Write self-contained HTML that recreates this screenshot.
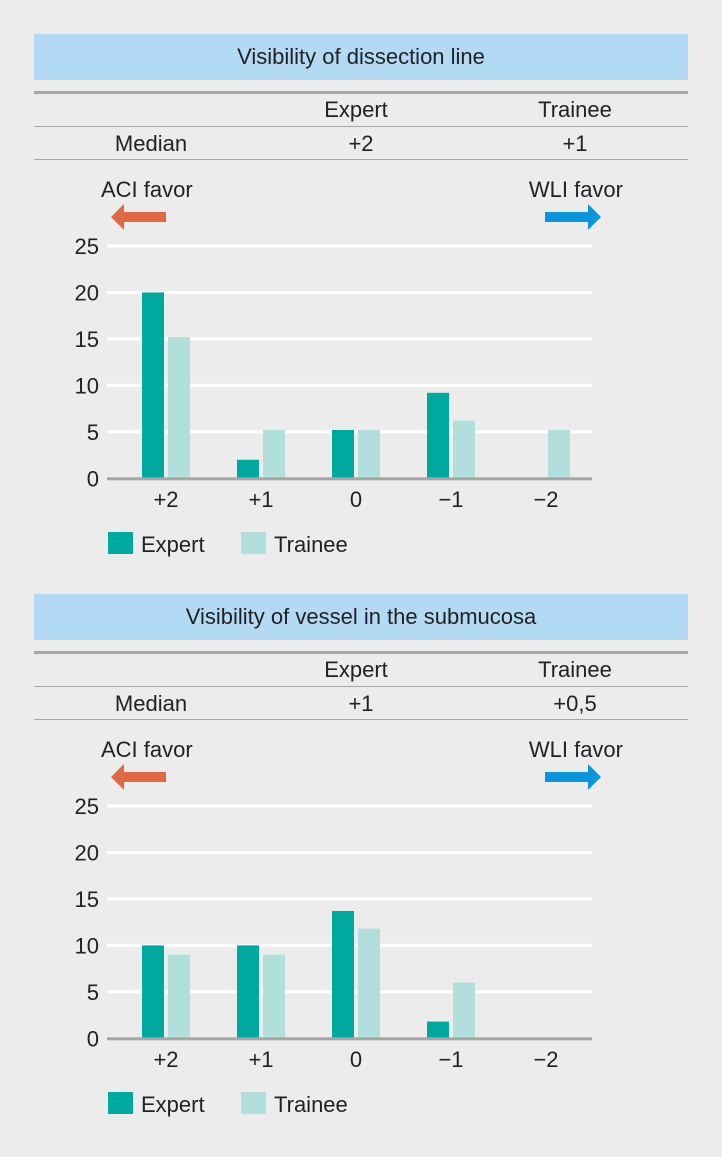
<!DOCTYPE html>
<html><head><meta charset="utf-8"><style>
body{margin:0;background:#ebeceb;width:722px;height:1152px;overflow:hidden;font-family:"Liberation Sans",sans-serif;}
svg text{font-family:"Liberation Sans",sans-serif;fill:#222;}
</style></head><body>
<svg id="s" width="722" height="1152"></svg>
<script>
const categories=["+2","+1","0","\u22121","\u22122"];
const yTicks=[0,5,10,15,20,25];
const titles=["Visibility of dissection line","Visibility of vessel in the submucosa"];
const medianExpert=["+2","+1"];
const medianTrainee=["+1","+0,5"];
const expert1=[20,2,5.2,9.2,0];
const trainee1=[15.2,5.2,5.2,6.2,5.2];
const expert2=[10,10,13.7,1.8,0];
const trainee2=[9,9,11.8,6,0];
const series=[[expert1,trainee1],[expert2,trainee2]];
const NS="http://www.w3.org/2000/svg";
const svg=document.getElementById('s');
const FS=22;
function mk(tag,attrs,parent,text){const e=document.createElementNS(NS,tag);for(const k in attrs)e.setAttribute(k,attrs[k]);if(text!==undefined)e.textContent=text;(parent||svg).appendChild(e);return e;}
const X0=107,X1=592,step=95,first=166;
function xC(i){return first+i*step;}
for(let p=0;p<2;p++){
  const off=p*560;
  const g=mk('g',{});
  
  
  const yS=v=>478.3+off-v*(232.3/25);
  let r=mk('rect',{x:34,y:34+off,width:654,height:46,fill:'#b3daf4'},g);
  
  let t=mk('text',{x:361,y:64+off,'text-anchor':'middle','font-size':FS},g,titles[p]);
  
  mk('rect',{x:34,y:91+off,width:654,height:3,fill:'#a6a6a6'},g);
  mk('rect',{x:34,y:126+off,width:654,height:1,fill:'#a6a6a6'},g);
  mk('rect',{x:34,y:159+off,width:654,height:1,fill:'#a6a6a6'},g);
  t=mk('text',{x:356,y:117+off,'text-anchor':'middle','font-size':FS},g,'Expert');
  
  t=mk('text',{x:575,y:117+off,'text-anchor':'middle','font-size':FS},g,'Trainee');
  
  t=mk('text',{x:151,y:151+off,'text-anchor':'middle','font-size':FS},g,'Median');
  
  t=mk('text',{x:361,y:151+off,'text-anchor':'middle','font-size':FS},g,medianExpert[p]);
  
  t=mk('text',{x:575,y:151+off,'text-anchor':'middle','font-size':FS},g,medianTrainee[p]);
  
  t=mk('text',{x:101,y:197+off,'font-size':FS},g,'ACI favor');
  
  t=mk('text',{x:623,y:197+off,'text-anchor':'end','font-size':FS},g,'WLI favor');
  
  let a=mk('polygon',{points:`111,${217+off} 124,${204+off} 124,${212+off} 166,${212+off} 166,${222+off} 124,${222+off} 124,${230+off}`,fill:'#e06842'},g);
  
  a=mk('polygon',{points:`601,${217+off} 588,${204+off} 588,${212+off} 545,${212+off} 545,${222+off} 588,${222+off} 588,${230+off}`,fill:'#0a95dc'},g);
  
  yTicks.forEach(v=>{
    if(v>0){const l=mk('rect',{x:X0,y:yS(v)-1.5,width:X1-X0,height:3,fill:'#fff'},g);
      }
    const tt=mk('text',{x:99,y:yS(v)+8,'text-anchor':'end','font-size':FS},g,String(v));
    
  });
  categories.forEach((c,i)=>{
    const ev=series[p][0][i],tv=series[p][1][i];
    if(ev>0){const b=mk('rect',{x:xC(i)-24,y:yS(ev),width:22,height:yS(0)-yS(ev),fill:'#00a99d'},g);
      }
    if(tv>0){const b=mk('rect',{x:xC(i)+2,y:yS(tv),width:22,height:yS(0)-yS(tv),fill:'#b1dfdc'},g);
      }
    const tt=mk('text',{x:xC(i),y:507+off,'text-anchor':'middle','font-size':FS},g,c);
    
  });
  const ax=mk('rect',{x:X0,y:yS(0)-1,width:X1-X0,height:3,fill:'#a6a6a6'},g);
  
  let lg=mk('rect',{x:108,y:532+off,width:25,height:22,fill:'#00a99d'},g);
  
  t=mk('text',{x:141,y:552+off,'font-size':FS},g,'Expert');
  
  lg=mk('rect',{x:241,y:532+off,width:25,height:22,fill:'#b1dfdc'},g);
  
  t=mk('text',{x:274,y:552+off,'font-size':FS},g,'Trainee');
  
}
</script>
</body></html>
